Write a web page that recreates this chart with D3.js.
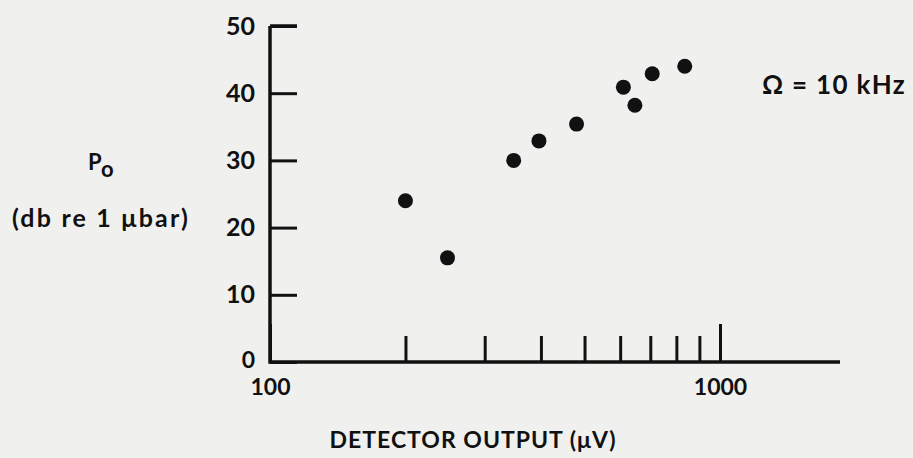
<!DOCTYPE html>
<html>
<head>
<meta charset="utf-8">
<script src="https://cdn.jsdelivr.net/npm/d3@7"></script>
<style>
  body { margin: 0; background: #f0f0ef; }
  svg { display: block; }
  text { font-family: Lato, "DejaVu Sans", sans-serif; font-weight: 700; fill: #111; }
</style>
</head>
<body>
<div id="chart"></div>
<script>
// Detector output (uV) vs Po (db re 1 ubar), 10 kHz
const detectorOutput = [200, 248, 348, 396, 480, 610, 647, 707, 835];
const pressureDb = [24, 15.5, 30, 32.9, 35.4, 40.9, 38.2, 42.9, 44];
const yTicks = [0, 10, 20, 30, 40, 50];
const xMinorTicks = [200, 300, 400, 500, 600, 700, 800, 900];
const xLabelTicks = [100, 1000];

const W = 913, H = 458;
const margin = { top: 26, left: 270 };
const width = 570, height = 336;

const svg = d3.select("#chart").append("svg")
    .attr("width", W)
    .attr("height", H);

const g = svg.append("g")
    .attr("transform", `translate(${margin.left},${margin.top})`);

const x = d3.scaleLog().domain([100, 1848]).range([0, width]);
const y = d3.scaleLinear().domain([0, 50]).range([height, 0]);

const ink = "#111";

// y axis, ticks point inward
const yAxis = g.append("g")
    .call(d3.axisLeft(y).tickValues(yTicks).tickSizeInner(-27).tickSizeOuter(0).tickPadding(15));
yAxis.select(".domain").remove();
yAxis.selectAll("line").attr("stroke", ink).attr("stroke-width", 3);
yAxis.selectAll("text").attr("font-size", 25).attr("fill", ink);
yAxis.selectAll(".tick").filter(d => d === 0).select("text")
    .attr("font-size", 23).attr("dy", "0.25em");

// x axis minor ticks (up from the axis)
const xMinor = g.append("g")
    .attr("transform", `translate(0,${height})`)
    .call(d3.axisBottom(x).tickValues(xMinorTicks).tickSizeInner(-26).tickSizeOuter(0).tickFormat(""));
xMinor.select(".domain").remove();
xMinor.selectAll("line").attr("stroke", ink).attr("stroke-width", 3);

// x axis labelled ticks
const xMajor = g.append("g")
    .attr("transform", `translate(0,${height})`)
    .call(d3.axisBottom(x).tickValues(xLabelTicks).tickSizeInner(-38).tickSizeOuter(0)
        .tickPadding(17).tickFormat(d3.format("d")));
xMajor.select(".domain").remove();
xMajor.selectAll("line").attr("stroke", ink).attr("stroke-width", 3);
xMajor.selectAll("text").attr("font-size", 23).attr("fill", ink);

// axis lines
g.append("path")
    .attr("d", `M0,0V${height}H${width}`)
    .attr("fill", "none")
    .attr("stroke", ink)
    .attr("stroke-width", 3.5);
g.append("line")
    .attr("x1", 0).attr("x2", 27).attr("y1", 0).attr("y2", 0)
    .attr("stroke", ink).attr("stroke-width", 3.5);

// points
g.selectAll(".pt")
    .data(detectorOutput)
    .enter().append("circle")
    .attr("class", "pt")
    .attr("cx", d => x(d))
    .attr("cy", (d, i) => y(pressureDb[i]))
    .attr("r", 7.5)
    .attr("fill", ink);

// labels
const po = svg.append("text")
    .attr("x", 88).attr("y", 170)
    .attr("font-size", 22);
po.append("tspan").text("P");
po.append("tspan").attr("dy", 7).attr("font-size", 22).text("o");

svg.append("text")
    .attr("x", 101).attr("y", 227)
    .attr("text-anchor", "middle")
    .attr("font-size", 25)
    .attr("letter-spacing", 2.2)
    .text("(db re 1 \u03bcbar)");

svg.append("text")
    .attr("x", 762).attr("y", 94)
    .attr("font-size", 26)
    .attr("letter-spacing", 1.3)
    .text("\u03a9 = 10 kHz");

svg.append("text")
    .attr("x", 473).attr("y", 448)
    .attr("text-anchor", "middle")
    .attr("font-size", 23)
    .attr("letter-spacing", 1)
    .text("DETECTOR OUTPUT (\u03bcV)");
</script>
</body>
</html>
